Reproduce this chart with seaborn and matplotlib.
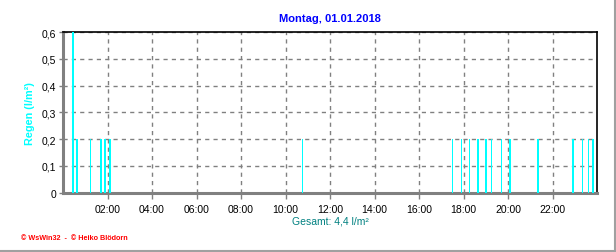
import matplotlib
matplotlib.use("Agg")
import matplotlib.pyplot as plt
import matplotlib.ticker as mticker
from matplotlib.lines import Line2D
import seaborn as sns
import pandas as pd

# Rain events: hour of day (decimal) and amount in l/m²
hours = [0.46, 0.64, 1.23, 1.72, 1.90, 2.11, 10.76,
         17.51, 17.92, 18.26, 18.66, 19.02, 19.25, 19.70, 20.10,
         21.36, 22.93, 23.34, 23.61, 23.83]
rain = [0.6, 0.2, 0.2, 0.2, 0.2, 0.2, 0.2,
        0.2, 0.2, 0.2, 0.2, 0.2, 0.2, 0.2, 0.2,
        0.2, 0.2, 0.2, 0.2, 0.2]
xtick_hours = [2, 4, 6, 8, 10, 12, 14, 16, 18, 20, 22]
xtick_labels = ["02:00", "04:00", "06:00", "08:00", "10:00", "12:00",
                "14:00", "16:00", "18:00", "20:00", "22:00"]
yticks = [0, 0.1, 0.2, 0.3, 0.4, 0.5, 0.6]
title = "Montag, 01.01.2018"
total_text = "Gesamt: 4,4 l/m²"

sns.set_style("white")
plt.rcParams["font.family"] = ["Liberation Sans", "DejaVu Sans"]

df = pd.DataFrame({"hour": hours, "rain": rain})

fig = plt.figure(figsize=(6.16, 2.53), dpi=100)
ax = fig.add_axes([63 / 616, 1 - 193.5 / 253, (597 - 63) / 616, (193.5 - 33.3) / 253])

ax.bar(df["hour"], df["rain"], width=0.07, color="#00ffff", linewidth=0, zorder=3)

ax.set_xlim(0, 24)
ax.set_ylim(0, 0.6)
ax.set_xticks(xtick_hours)
ax.set_xticklabels(xtick_labels)
ax.xaxis.set_minor_locator(mticker.MultipleLocator(0.5))
ax.set_yticks(yticks)
ax.set_yticklabels([f"{v:.1f}".replace(".", ",") if v else "0" for v in yticks])
ax.yaxis.set_minor_locator(mticker.MultipleLocator(0.05))

ax.grid(True, which="major", color="#808080", linestyle=(0, (3, 3)), linewidth=1)
ax.set_axisbelow(True)

ax.tick_params(axis="both", which="both", direction="out", colors="#808080",
               labelcolor="black", labelsize=7.5)
ax.tick_params(axis="x", which="both", length=4, width=1, pad=4)
ax.tick_params(axis="y", which="both", length=3, width=1, pad=2)
ax.tick_params(left=True, bottom=True)

for s in ["left", "bottom"]:
    ax.spines[s].set_color("#808080")
    ax.spines[s].set_linewidth(2.2)
for s in ["top", "right"]:
    ax.spines[s].set_color("black")
    ax.spines[s].set_linewidth(1.2)

ax.set_ylabel("Regen (l/m²)", color="#00ffff", fontsize=7.8, fontweight="bold", labelpad=5)
ax.set_xlabel("")

fig.text(330 / 616, 1 - 19 / 253, title, color="#0000ff", fontsize=8, fontweight="bold",
         ha="center", va="center")
fig.text(330 / 616, 1 - 221.5 / 253, total_text, color="#008080", fontsize=7.5,
         ha="center", va="center")
fig.text(21 / 616, 1 - 239 / 253, "© WsWin32  -  © Heiko Blödorn", color="#ff0000",
         fontsize=5.2, fontweight="bold", ha="left", va="center")

fig.add_artist(Line2D([614.5 / 616, 614.5 / 616], [0, 1], color="#a0a0a0", linewidth=1.5))
fig.add_artist(Line2D([0, 1], [1 - 252 / 253, 1 - 252 / 253], color="#a0a0a0", linewidth=1.5))

fig.savefig("out.png", dpi=100)
